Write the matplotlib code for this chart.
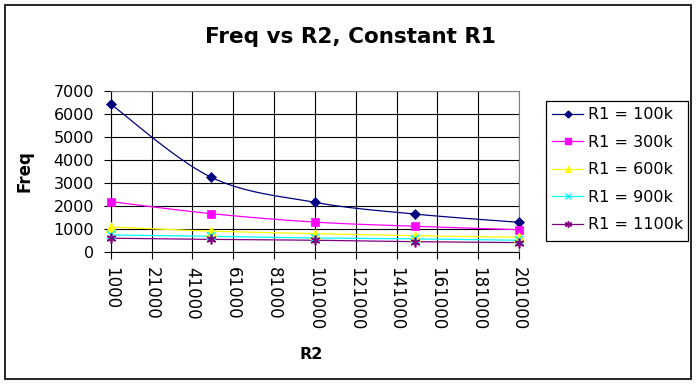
import numpy as np
import matplotlib
matplotlib.use("Agg")
import matplotlib.pyplot as plt
from matplotlib.patches import Rectangle
from matplotlib.lines import Line2D

# ---- data ----
r2 = [1000, 50000, 101000, 150000, 201000]
series_names = ["R1 = 100k", "R1 = 300k", "R1 = 600k", "R1 = 900k", "R1 = 1100k"]
f_100k = [6430, 3260, 2160, 1650, 1290]
f_300k = [2190, 1670, 1300, 1120, 970]
f_600k = [1090, 910, 800, 710, 640]
f_900k = [740, 680, 610, 570, 510]
f_1100k = [600, 550, 510, 450, 410]
x_ticks = list(range(1000, 201001, 20000))
y_ticks = list(range(0, 7001, 1000))

colors = ["#000080", "#FF00FF", "#FFFF00", "#00FFFF", "#800080"]
markers = ["D", "s", "^", "x", (6, 2, 0)]
msizes = [5, 6, 7, 6, 7]

W, H = 696, 384
fig = plt.figure(figsize=(W / 100, H / 100), dpi=100)
fig.patch.set_facecolor("white")

left, right, top, bottom = 110.7, 519, 91, 252
ax = fig.add_axes([left / W, 1 - bottom / H, (right - left) / W, (bottom - top) / H])
ax.set_xlim(1000, 201000)
ax.set_ylim(0, 7000)
ax.set_xticks(x_ticks)
ax.set_yticks(y_ticks)
ax.set_xticklabels([str(v) for v in x_ticks], rotation=270, fontsize=12,
                   va="top", ha="center")
ax.set_yticklabels([str(v) for v in y_ticks], fontsize=11.5)
ax.grid(True, color="black", linewidth=0.8)
ax.set_axisbelow(True)
ax.tick_params(axis="both", direction="out", length=5, width=0.8, color="black")
ax.tick_params(axis="y", pad=7)
ax.tick_params(axis="x", pad=6)
for s in ["top", "right"]:
    ax.spines[s].set_color("#808080")
    ax.spines[s].set_linewidth(0.8)
for s in ["left", "bottom"]:
    ax.spines[s].set_color("black")
    ax.spines[s].set_linewidth(0.8)


def smooth(xs, ys, n=30):
    # Excel-like smoothed line (cardinal Bezier) computed in pixel space
    pw, ph = right - left, bottom - top
    px = (np.array(xs, float) - 1000) / 200000 * pw
    py = np.array(ys, float) / 7000 * ph
    P = np.column_stack([px, py])
    out = []
    for i in range(len(P) - 1):
        p0 = P[i - 1] if i > 0 else P[i]
        p1, p2 = P[i], P[i + 1]
        p3 = P[i + 2] if i + 2 < len(P) else P[i + 1]
        c1 = p1 + (p2 - p0) / 6
        c2 = p2 - (p3 - p1) / 6
        t = np.linspace(0, 1, n)[:, None]
        seg = ((1 - t) ** 3) * p1 + 3 * ((1 - t) ** 2) * t * c1 + 3 * (1 - t) * t ** 2 * c2 + t ** 3 * p2
        out.append(seg if i == 0 else seg[1:])
    out = np.vstack(out)
    return out[:, 0] / pw * 200000 + 1000, out[:, 1] / ph * 7000


all_series = [f_100k, f_300k, f_600k, f_900k, f_1100k]
handles = []
for ys, c, m, ms, name in zip(all_series, colors, markers, msizes, series_names):
    sx, sy = smooth(r2, ys)
    ax.plot(sx, sy, color=c, linewidth=0.9, clip_on=False, zorder=3)
    ax.plot(r2, ys, linestyle="none", marker=m, markersize=ms, color=c,
            markeredgecolor=c, markeredgewidth=1.2 if m in ("x",) or isinstance(m, tuple) else 0.5,
            clip_on=False, zorder=4)
    handles.append(Line2D([0], [0], color=c, linewidth=0.9, marker=m,
                          markersize=ms * 0.7, markeredgecolor=c, markeredgewidth=1.0))

ax.set_xlabel("R2", fontsize=11.5, fontweight="bold", labelpad=8)
ax.xaxis.set_label_coords(0.49, -0.59)
ax.set_ylabel("Freq", fontsize=12, fontweight="bold")
ax.yaxis.set_label_coords(-0.19, 0.5)

fig.text(350 / W, 1 - 37 / H, "Freq vs R2, Constant R1", fontsize=15.5,
         fontweight="bold", ha="center", va="center")

# legend
lx0, ly0, lx1, ly1 = 546, 101, 688, 241
fig.patches.append(Rectangle((lx0 / W, 1 - ly1 / H), (lx1 - lx0) / W, (ly1 - ly0) / H,
                             transform=fig.transFigure, fill=False,
                             edgecolor="black", linewidth=0.9))
leg = fig.legend(handles, series_names, loc="upper left",
                 bbox_to_anchor=(lx0 / W, 1 - ly0 / H), frameon=False,
                 fontsize=11.5, handlelength=1.9, handletextpad=0.35,
                 labelspacing=0.78, borderaxespad=0, borderpad=0.4)

# outer chart border
fig.patches.append(Rectangle((5 / W, 1 - 379 / H), (691 - 5) / W, (379 - 5) / H,
                             transform=fig.transFigure, fill=False,
                             edgecolor="black", linewidth=1.2))

fig.savefig("out.png", dpi=100, facecolor="white")
